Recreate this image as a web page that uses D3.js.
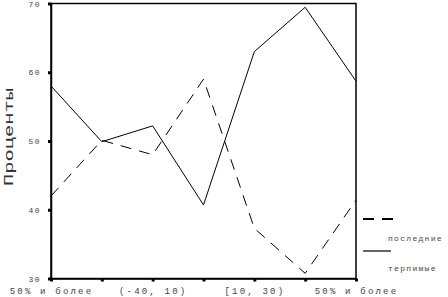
<!DOCTYPE html>
<html><head><meta charset="utf-8">
<script src="https://cdn.jsdelivr.net/npm/d3@7"></script>
<style>html,body{margin:0;padding:0;background:#fff;}svg{display:block;}</style>
</head><body>
<svg id="c" width="448" height="297"></svg>
<script>
const categories = ["50% и более","[-50,-40)","(-40, 10)","[-10,10)","[10, 30)","[30,50)","50% и более"];
const shownLabels = [0, 2, 4, 6];
const seriesNames = ["последние", "терпимые"];
const dashedValues = [42.0, 50.1, 48.0, 59.0, 37.3, 30.75, 41.4];
const solidValues  = [58.0, 49.9, 52.2, 40.7, 63.0, 69.45, 58.7];
const yTicks = [30, 40, 50, 60, 70];
const yTitle = "Проценты";

const svg = d3.select("#c");
const L = 51, R = 356, T = 3.5, B = 278.5;
const x = d3.scalePoint().domain(d3.range(categories.length)).range([L, R]);
const y = d3.scaleLinear().domain([30, 70]).range([B, T]);

// frame
svg.append("rect").attr("x", L).attr("y", T).attr("width", R - L).attr("height", B - T)
  .attr("fill", "none").attr("stroke", "#000").attr("stroke-width", 1.5);

// y axis
const ya = svg.append("g").attr("transform", `translate(${L},0)`)
  .call(d3.axisLeft(y).tickValues(yTicks).tickSize(3).tickSizeOuter(0).tickPadding(7).tickFormat(d3.format("d")));
ya.select(".domain").attr("stroke", "#000").attr("stroke-width", 1.5);
ya.selectAll(".tick line").attr("stroke", "#000").attr("stroke-width", 3);
ya.selectAll(".tick text").attr("font-family", "Liberation Mono").attr("font-size", 8)
  .attr("letter-spacing", 1.5).attr("fill", "#444");

// x axis
const xa = svg.append("g").attr("transform", `translate(0,${B})`)
  .call(d3.axisBottom(x).tickSize(3).tickSizeOuter(0).tickPadding(6)
    .tickFormat(i => shownLabels.includes(i) ? categories[i] : ""));
xa.select(".domain").attr("stroke", "#000").attr("stroke-width", 1.5);
xa.selectAll(".tick line").attr("stroke", "#000").attr("stroke-width", 3);
xa.selectAll(".tick text").attr("font-family", "Liberation Mono").attr("font-size", 9)
  .attr("letter-spacing", 2.2).attr("fill", "#444");

// y title
svg.append("text").attr("transform", "translate(13,137) rotate(-90)")
  .attr("text-anchor", "middle").attr("font-family", "Liberation Mono").attr("font-size", 13)
  .attr("textLength", 98).attr("lengthAdjust", "spacingAndGlyphs").attr("fill", "#333")
  .text(yTitle);

const line = d3.line().x((d, i) => x(i)).y(d => y(d));
svg.append("path").datum(dashedValues).attr("d", line).attr("fill", "none")
  .attr("stroke", "#000").attr("stroke-width", 1).attr("stroke-dasharray", "11,8");
svg.append("path").datum(solidValues).attr("d", line).attr("fill", "none")
  .attr("stroke", "#000").attr("stroke-width", 1);

// legend
const lg = svg.append("g");
lg.append("line").attr("x1", 363).attr("x2", 393).attr("y1", 219).attr("y2", 219)
  .attr("stroke", "#000").attr("stroke-width", 2).attr("stroke-dasharray", "11,8");
lg.append("text").attr("x", 388).attr("y", 241).attr("font-family", "Liberation Mono")
  .attr("font-size", 8).attr("letter-spacing", 1.3).attr("fill", "#444").text(seriesNames[0]);
lg.append("line").attr("x1", 363).attr("x2", 391).attr("y1", 251).attr("y2", 251)
  .attr("stroke", "#000").attr("stroke-width", 1.2);
lg.append("text").attr("x", 388).attr("y", 271).attr("font-family", "Liberation Mono")
  .attr("font-size", 8).attr("letter-spacing", 1.3).attr("fill", "#444").text(seriesNames[1]);
</script>
</body></html>
